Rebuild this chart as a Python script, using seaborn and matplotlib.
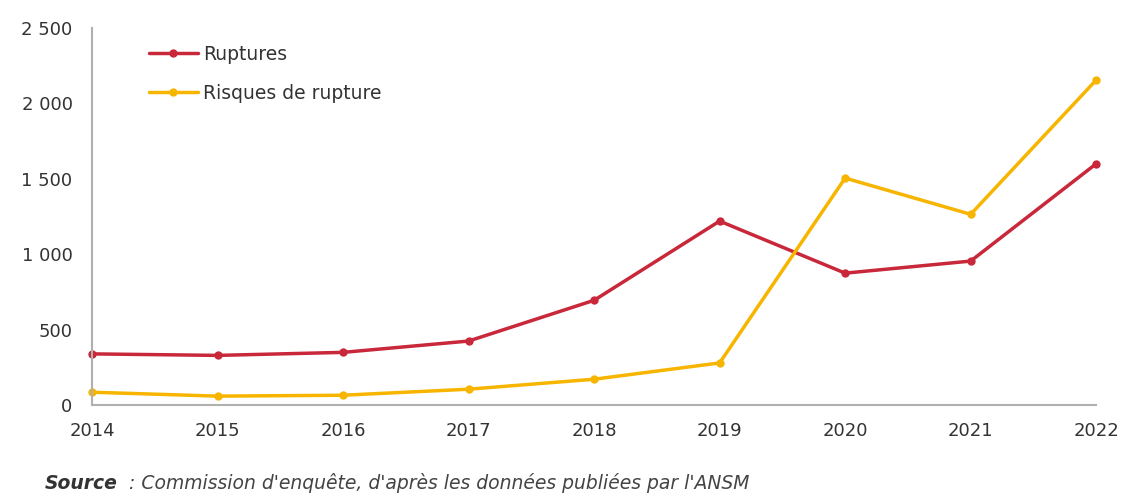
import matplotlib
matplotlib.use("Agg")
import matplotlib.pyplot as plt
import seaborn as sns
import pandas as pd
from matplotlib.ticker import FuncFormatter

years = [2014, 2015, 2016, 2017, 2018, 2019, 2020, 2021, 2022]
ruptures = [340, 330, 350, 425, 695, 1220, 875, 955, 1600]
risques = [86, 60, 66, 106, 172, 280, 1505, 1265, 2155]
series_names = ["Ruptures", "Risques de rupture"]
yticks = [0, 500, 1000, 1500, 2000, 2500]

df = pd.DataFrame({
    "Année": years * 2,
    "Valeur": ruptures + risques,
    "Série": [series_names[0]] * len(years) + [series_names[1]] * len(years),
})

sns.set_style("white")
plt.rcParams["font.family"] = ["DejaVu Sans"]

fig = plt.figure(figsize=(11.22, 4.99), dpi=100)
ax = fig.add_axes([0.082, 0.188, 0.895, 0.756])

palette = {series_names[0]: "#c8283a", series_names[1]: "#f7b500"}
sns.lineplot(data=df, x="Année", y="Valeur", hue="Série", palette=palette,
             marker="o", markersize=6, markeredgewidth=0, linewidth=2.5,
             ax=ax, clip_on=False)

ax.set_xlim(2014, 2022)
ax.set_ylim(0, 2500)
ax.set_xticks(years)
ax.set_yticks(yticks)
ax.yaxis.set_major_formatter(FuncFormatter(lambda v, p: f"{int(v):,}".replace(",", " ")))
ax.set_xlabel("")
ax.set_ylabel("")

for s in ["top", "right"]:
    ax.spines[s].set_visible(False)
for s in ["left", "bottom"]:
    ax.spines[s].set_color("#b0b0b0")
    ax.spines[s].set_linewidth(1.5)

ax.tick_params(axis="both", which="both", length=4, color="#b0b0b0",
               labelsize=13, labelcolor="#333333", direction="out")
ax.tick_params(axis="y", pad=10)
ax.tick_params(axis="x", pad=8)

leg = ax.legend(loc="upper left", bbox_to_anchor=(0.04, 1.0), frameon=False,
                fontsize=13.5, handlelength=2.6, handletextpad=0.3, labelspacing=1.05)
for t in leg.get_texts():
    t.set_color("#333333")

fig.text(0.04, 0.02, "Source", fontsize=13.5, fontstyle="italic", fontweight="bold",
         color="#333333")
fig.text(0.11, 0.02, " : Commission d'enquête, d'après les données publiées par l'ANSM",
         fontsize=13.5, fontstyle="italic", color="#444444")

fig.savefig("out.png", dpi=100)
